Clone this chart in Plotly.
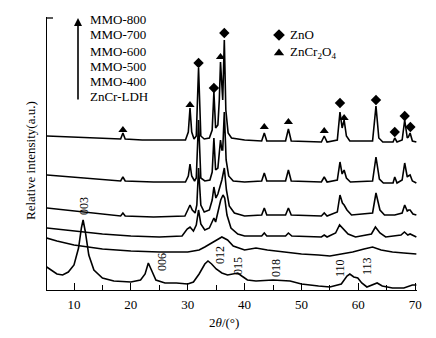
import plotly.graph_objects as go

# ---- data (2θ in degrees, relative intensity in arbitrary units) ----
x_800 = [5.2,10,15,18.2,18.6,19.0,22,26,29.6,30.1,30.4,30.7,31.1,31.5,31.9,32.3,32.9,33.8,34.3,34.6,34.9,35.3,35.55,35.76,36.0,36.15,36.43,36.7,37.1,37.7,40,43.0,43.46,43.9,47.2,47.7,48.2,53.5,54.0,54.5,56.3,56.77,57.15,57.5,57.9,58.5,62.5,63.1,63.6,64.3,66.1,66.4,66.8,67.7,68.15,68.6,68.8,69.1,69.5,70.2]
p_800 = [136,137,138,139,133,139,140,140,140,132,108,132,139,136,68,136,139,138,130,92,128,125,100,62,95,100,40,110,133,138,140,141,133,141,141,129,141,142,136,142,140,112,128,120,136,141,141,106,138,142,142,138,142,140,120,138,137,133,141,142]

x_700 = [5.2,10,15,18.2,18.6,19.0,24,29.6,30.1,30.4,30.7,31.2,31.5,31.9,32.3,33,33.9,34.3,34.6,34.9,35.3,35.55,35.76,36.0,36.15,36.43,36.75,37.2,38,40,43.0,43.46,43.9,47.2,47.7,48.2,53.5,54.0,54.5,56.3,56.77,57.15,57.5,57.9,58.6,62.5,63.1,63.7,64.4,66.1,66.4,66.8,67.7,68.15,68.6,68.8,69.1,69.5,70.2]
p_700 = [175,177,179,181,177,181,182,182,176,164,176,181,178,120,178,181,180,172,138,170,168,155,140,150,150,112,160,176,181,182,181,173,181,181,170,181,182,177,182,180,162,174,170,178,182,181,157,179,183,183,177,183,180,163,177,176,175,181,183]

x_600 = [5.2,10,15,18.2,18.6,19.0,24,29.5,30.0,30.4,30.8,31.3,31.6,31.9,32.3,32.9,33.8,34.3,34.6,34.95,35.3,35.76,36.0,36.43,36.8,37.3,38.2,40,43.0,43.46,43.9,47.2,47.7,48.2,53.5,54.0,54.5,56.3,56.77,57.2,57.5,58.0,58.8,62.5,63.1,63.8,64.6,66.4,67.7,68.15,68.6,68.85,69.1,69.6,70.2]
p_600 = [208,211,214,216,213,216,217,216,210,205,210,213,205,168,205,212,210,200,187,198,194,185,180,168,190,206,213,216,215,208,215,215,208,215,216,213,216,212,195,203,205,210,215,213,193,210,215,215,213,205,211,210,210,214,215]

x_500 = [5.2,10,15,20,25,29.0,29.9,30.4,31.0,31.5,31.9,32.3,33.0,33.8,34.3,34.6,34.9,35.3,35.8,36.2,36.5,36.9,37.6,38.8,40,43.0,43.46,43.9,47.2,47.7,48.3,53.5,54.0,54.5,56.0,56.7,57.4,58.2,59.5,62.3,63.0,63.8,64.8,67.5,68.1,68.7,69.1,70.2]
p_500 = [228,231,234,236,237,236,229,227,231,225,210,224,230,228,222,218,222,212,200,195,198,215,228,234,236,236,233,236,236,233,236,237,235,237,233,225,229,234,237,234,227,233,237,235,232,235,234,237]

x_400 = [5.2,7,10,15,20,25,30,32,33,34.5,36,37,38,40,42,44,47,50,53,55,57,59,61,62.5,64,66,68,70.2]
p_400 = [238,241,245,249,251,252,252,250,247,242,237,240,246,250,248,250,252,254,255,256,254,252,249,247,250,252,253,254]

x_ldh = [5.2,6,7,8,9,10,10.8,11.3,11.6,12.0,12.6,13.5,15,17,20,21.7,22.5,23.07,23.6,24.4,26,28,30,31,32,33.0,33.56,34.2,35,36,37,38,38.8,39.5,40.5,42,45,48,50,53,55,57,58.0,58.5,59.2,59.9,60.6,61.5,62.5,63.3,64.2,66,68,69.5,70.2]
p_ldh = [267,270,274,275,272,265,248,228,220,232,255,270,278,281,282,280,274,263,270,280,283,283,284,282,274,264,261,264,269,273,275,274,273,276,280,281,280,281,284,286,287,284,276,274,277,278,283,287,285,283,286,288,288,285,285]

# phase markers (2θ, height)
zno_x = [31.9, 34.6, 36.43, 56.77, 63.1, 66.4, 68.15, 69.15]
zno_p = [63, 88, 33, 103, 100, 132, 116, 127]
spinel_x = [18.6, 30.4, 35.76, 43.46, 47.7, 54.0, 57.5]
spinel_p = [130, 105, 57, 127, 122, 131, 118]

# hkl labels of the LDH pattern
hkl_labels = ["003", "006", "012", "015", "018", "110", "113"]
hkl_px = [84, 162, 220, 238, 276, 340, 367]
hkl_py = [206, 262, 255, 266, 268, 268, 266]

sample_names = ["MMO-800", "MMO-700", "MMO-600", "MMO-500", "MMO-400", "ZnCr-LDH"]

# ---- geometry (window pixels; page body has an 8px margin) ----
OFF = 8
L, R, T, B = 47, 417, 17, 290
BASE = 290

def inten(plist):
    return [BASE - v for v in plist]

def px2x(px):
    return 10 + (px - 74) / 5.687

def py2y(py):
    return BASE - py

def ppx(px):
    return (px - L) / (R - L)

def ppy(py):
    return (B - py) / (B - T)

FONT = "Liberation Serif, Times New Roman, serif"
fig = go.Figure()

for xs, ps in [(x_800, p_800), (x_700, p_700), (x_600, p_600),
               (x_500, p_500), (x_400, p_400), (x_ldh, p_ldh)]:
    fig.add_trace(go.Scatter(x=xs, y=inten(ps), mode="lines",
                             line=dict(color="black", width=1.6),
                             showlegend=False, hoverinfo="skip"))

fig.add_trace(go.Scatter(x=zno_x, y=inten(zno_p), mode="markers",
                         marker=dict(symbol="diamond", size=8, color="black"),
                         showlegend=False))
fig.add_trace(go.Scatter(x=spinel_x, y=inten(spinel_p), mode="markers",
                         marker=dict(symbol="triangle-up", size=8, color="black"),
                         showlegend=False))

# legend symbols (top right)
fig.add_trace(go.Scatter(x=[px2x(279)], y=[py2y(35)], mode="markers",
                         marker=dict(symbol="diamond", size=9, color="black"),
                         showlegend=False))
fig.add_trace(go.Scatter(x=[px2x(279)], y=[py2y(53)], mode="markers",
                         marker=dict(symbol="triangle-up", size=9, color="black"),
                         showlegend=False))

tf = dict(size=13, family=FONT, color="black")
ann = []
ann.append(dict(x=ppx(288), y=ppy(35), text="ZnO", showarrow=False,
                xanchor="left", yanchor="middle", font=tf))
ann.append(dict(x=ppx(288), y=ppy(52), text="ZnCr<sub>2</sub>O<sub>4</sub>", showarrow=False,
                xanchor="left", yanchor="middle", font=tf))

leg_py = [20, 35, 51, 66, 81, 97]
for name, py in zip(sample_names, leg_py):
    ann.append(dict(x=ppx(88), y=ppy(py), text=name, showarrow=False,
                    xanchor="left", yanchor="middle", font=tf))

for t, px, py in zip(hkl_labels, hkl_px, hkl_py):
    ann.append(dict(x=ppx(px), y=ppy(py), text=t, showarrow=False, textangle=-90,
                    xanchor="center", yanchor="middle",
                    font=dict(size=12, family=FONT, color="black")))

# axis titles
ann.append(dict(x=ppx(30), y=ppy(161), text="Relative intensity(a.u.)", showarrow=False,
                textangle=-90, xanchor="center", yanchor="middle", font=tf))
ann.append(dict(x=ppx(224), y=ppy(322), text="2<i>θ</i>/(°)", showarrow=False,
                xanchor="center", yanchor="middle", font=tf))
for a in ann:
    a["xref"] = "paper"
    a["yref"] = "paper"

# arrow
ann.append(dict(x=px2x(78), y=py2y(18), ax=px2x(78), ay=py2y(101),
                xref="x", yref="y", axref="x", ayref="y", text="",
                showarrow=True, arrowhead=2, arrowsize=1, arrowwidth=1.6, arrowcolor="black"))
fig.update_layout(annotations=ann)

# small cap at the top of the y axis
fig.add_shape(type="line", x0=px2x(47), x1=px2x(53), y0=py2y(18), y1=py2y(18),
              xref="x", yref="y", line=dict(color="black", width=1.3))

fig.update_layout(
    width=436 - OFF, height=338 - OFF,
    margin=dict(l=L - OFF, r=436 - R, t=T - OFF, b=338 - B, autoexpand=False),
    paper_bgcolor="white", plot_bgcolor="white",
    showlegend=False,
    xaxis=dict(range=[px2x(L), px2x(R)], showline=True, linecolor="black", linewidth=1.3,
               ticks="inside", ticklen=7, tickcolor="black", tickwidth=1,
               tickvals=[10, 20, 30, 40, 50, 60, 70], showgrid=False, zeroline=False,
               tickfont=tf, automargin=False,
               minor=dict(tickvals=[15, 25, 35, 45, 55, 65], ticks="inside", ticklen=5,
                          tickcolor="black", showgrid=False),
               ticklabelstandoff=2),
    yaxis=dict(range=[0, py2y(T)], showline=True, linecolor="black", linewidth=1.3,
               showticklabels=False, ticks="", showgrid=False, zeroline=False,
               automargin=False),
)

fig.write_html("out.html")
